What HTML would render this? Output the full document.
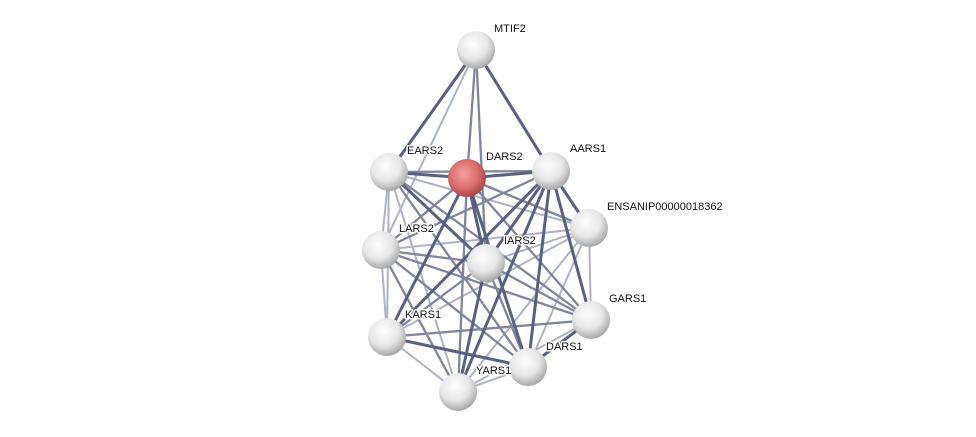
<!DOCTYPE html>
<html><head><meta charset="utf-8"><style>
html,body{margin:0;padding:0;background:#fff;width:976px;height:437px;overflow:hidden}
text{font-family:"Liberation Sans",sans-serif;font-size:11px;fill:#111;paint-order:stroke;stroke:#fff;stroke-width:3px;stroke-linejoin:round}
</style></head><body>
<svg width="976" height="437" viewBox="0 0 976 437" xmlns="http://www.w3.org/2000/svg">
<defs>
<radialGradient id="w" cx="0.42" cy="0.35" r="0.7">
<stop offset="0" stop-color="#ffffff"/><stop offset="0.55" stop-color="#e6e6e6"/><stop offset="1" stop-color="#9c9c9c"/>
</radialGradient>
<radialGradient id="r" cx="0.42" cy="0.4" r="0.7">
<stop offset="0" stop-color="#f7a0a0"/><stop offset="0.55" stop-color="#d96a6a"/><stop offset="1" stop-color="#963a3a"/>
</radialGradient>
</defs>
<g stroke-linecap="round">
<g stroke="#aeb2c4" stroke-width="2">
<line x1="476" y1="50" x2="381" y2="250"/>
<line x1="389" y1="172" x2="381" y2="250"/>
<line x1="389" y1="172" x2="387" y2="337"/>
<line x1="389" y1="172" x2="458" y2="392"/>
<line x1="389" y1="172" x2="589" y2="228"/>
<line x1="589" y1="228" x2="381" y2="250"/>
<line x1="589" y1="228" x2="486" y2="263"/>
<line x1="589" y1="228" x2="591" y2="320"/>
<line x1="589" y1="228" x2="387" y2="337"/>
<line x1="589" y1="228" x2="458" y2="392"/>
<line x1="589" y1="228" x2="528" y2="367"/>
<line x1="381" y1="250" x2="387" y2="337"/>
<line x1="591" y1="320" x2="458" y2="392"/>
<line x1="387" y1="337" x2="458" y2="392"/>
<line x1="528" y1="367" x2="458" y2="392"/>
</g>
<g stroke="#7f859d" stroke-width="2.3">
<line x1="476" y1="50" x2="467" y2="178"/>
<line x1="476" y1="50" x2="486" y2="263"/>
<line x1="389" y1="172" x2="551" y2="171"/>
<line x1="389" y1="172" x2="591" y2="320"/>
<line x1="389" y1="172" x2="528" y2="367"/>
<line x1="467" y1="178" x2="381" y2="250"/>
<line x1="467" y1="178" x2="591" y2="320"/>
<line x1="467" y1="178" x2="458" y2="392"/>
<line x1="467" y1="178" x2="589" y2="228"/>
<line x1="551" y1="171" x2="381" y2="250"/>
<line x1="381" y1="250" x2="486" y2="263"/>
<line x1="381" y1="250" x2="591" y2="320"/>
<line x1="381" y1="250" x2="528" y2="367"/>
<line x1="381" y1="250" x2="458" y2="392"/>
<line x1="486" y1="263" x2="591" y2="320"/>
<line x1="486" y1="263" x2="387" y2="337"/>
<line x1="486" y1="263" x2="528" y2="367"/>
<line x1="591" y1="320" x2="387" y2="337"/>
</g>
<g stroke="#5a6180" stroke-width="3">
<line x1="476" y1="50" x2="389" y2="172"/>
<line x1="476" y1="50" x2="551" y2="171"/>
<line x1="389" y1="172" x2="467" y2="178"/>
<line x1="389" y1="172" x2="486" y2="263"/>
<line x1="467" y1="178" x2="551" y2="171"/>
<line x1="467" y1="178" x2="486" y2="263"/>
<line x1="467" y1="178" x2="387" y2="337"/>
<line x1="467" y1="178" x2="528" y2="367"/>
<line x1="551" y1="171" x2="589" y2="228"/>
<line x1="551" y1="171" x2="486" y2="263"/>
<line x1="551" y1="171" x2="591" y2="320"/>
<line x1="551" y1="171" x2="387" y2="337"/>
<line x1="551" y1="171" x2="528" y2="367"/>
<line x1="551" y1="171" x2="458" y2="392"/>
<line x1="486" y1="263" x2="458" y2="392"/>
<line x1="591" y1="320" x2="528" y2="367"/>
<line x1="387" y1="337" x2="528" y2="367"/>
</g>
</g>
<g>
<circle cx="476" cy="50" r="19" fill="url(#w)"/>
<circle cx="389" cy="172" r="19" fill="url(#w)"/>
<circle cx="467" cy="178" r="19" fill="url(#r)"/>
<circle cx="551" cy="171" r="19" fill="url(#w)"/>
<circle cx="589" cy="228" r="19" fill="url(#w)"/>
<circle cx="381" cy="250" r="19" fill="url(#w)"/>
<circle cx="486" cy="263" r="19" fill="url(#w)"/>
<circle cx="591" cy="320" r="19" fill="url(#w)"/>
<circle cx="387" cy="337" r="19" fill="url(#w)"/>
<circle cx="528" cy="367" r="19" fill="url(#w)"/>
<circle cx="458" cy="392" r="19" fill="url(#w)"/>
</g>
<g>
<text x="494" y="32">MTIF2</text>
<text x="407" y="154">EARS2</text>
<text x="486" y="160">DARS2</text>
<text x="570" y="152">AARS1</text>
<text x="607" y="210">ENSANIP00000018362</text>
<text x="399" y="232">LARS2</text>
<text x="504" y="244">IARS2</text>
<text x="609" y="302">GARS1</text>
<text x="405" y="318">KARS1</text>
<text x="546" y="350">DARS1</text>
<text x="476" y="374">YARS1</text>
</g>
</svg>
</body></html>
